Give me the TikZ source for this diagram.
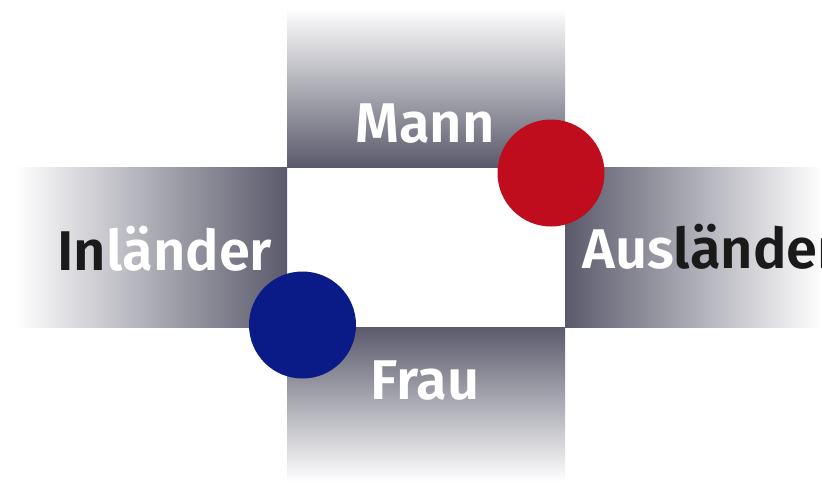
\documentclass[tikz,border=0pt]{standalone}
\usepackage{fontspec}
\setmainfont{Fira Sans}[BoldFont={Fira Sans SemiBold}]
\begin{document}
\begin{tikzpicture}[x=1pt,y=-1pt,
  lbl/.style={font=\fontsize{56}{60}\selectfont\bfseries, inner sep=0pt}]
\definecolor{bandgray}{HTML}{5A5A6C}
\definecolor{myred}{HTML}{C00D1E}
\definecolor{myblue}{HTML}{0A1A87}
\definecolor{ink}{HTML}{1A1A1A}
\useasboundingbox (0,0) rectangle (822,482);
% bands
\shade[top color=white, bottom color=bandgray] (287,8) rectangle (565,167);
\shade[top color=bandgray, bottom color=white] (287,327) rectangle (565,482);
\shade[left color=white, right color=bandgray] (15,167) rectangle (287,327);
\shade[left color=bandgray, right color=white] (565,167) rectangle (822,327);
% circles
\fill[myred] (551,173) circle (53.5);
\fill[myblue] (302.5,325) circle (53.5);
% labels
\node[lbl, anchor=base, text=white] (mann) at (425,142) {Mann};
\node[lbl, anchor=base, text=white] (frau) at (425,399) {Frau};
\node[lbl, anchor=base west] (in) at (57,270) {\textcolor{ink}{In}\textcolor{white}{länder}};
\node[lbl, anchor=base west] (aus) at (582,268) {\textcolor{white}{Aus}\textcolor{ink}{länder}};
\end{tikzpicture}
\end{document}
